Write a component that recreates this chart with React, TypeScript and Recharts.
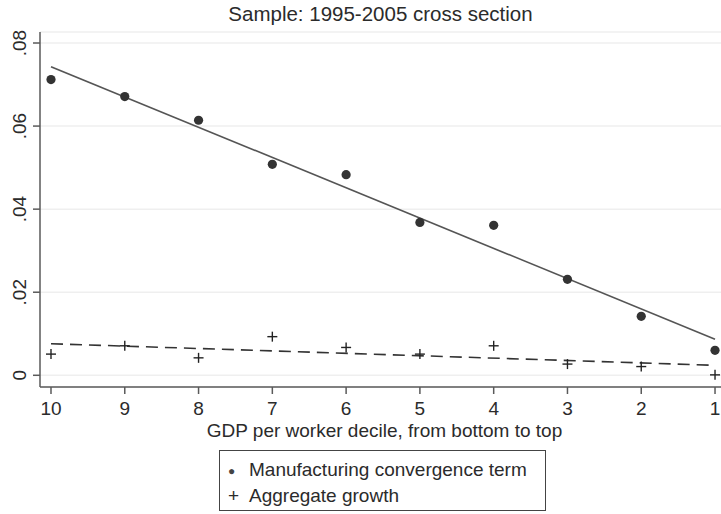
import React from 'react';
import { ComposedChart, Line, Scatter, XAxis, YAxis, CartesianGrid } from 'recharts';

const deciles = [10, 9, 8, 7, 6, 5, 4, 3, 2, 1];
const convergenceTerm = [0.0712, 0.0671, 0.0614, 0.0508, 0.0483, 0.0368, 0.0361, 0.0231, 0.0142, 0.006];
const aggregateGrowth = [0.0051, 0.0071, 0.0042, 0.0093, 0.0067, 0.0051, 0.0071, 0.0027, 0.0021, 0.0001];

// fitted lines, ends at decile 10 and decile 1
const fitDeciles = [10, 1];
const convergenceFit = [0.0743, 0.0087];
const aggregateFit = [0.0076, 0.0024];

const yTicks = [0, 0.02, 0.04, 0.06, 0.08];
const xTicks = [10, 9, 8, 7, 6, 5, 4, 3, 2, 1];

const FONT = '"Liberation Sans", Arial, Helvetica, sans-serif';
const INK = '#2b2b2b';
const AXIS = '#5a5a5a';

const points = deciles.map((d, i) => ({
  decile: d,
  conv: convergenceTerm[i],
  agg: aggregateGrowth[i],
}));
const convFitData = fitDeciles.map((d, i) => ({ decile: d, fit: convergenceFit[i] }));
const aggFitData = fitDeciles.map((d, i) => ({ decile: d, fit: aggregateFit[i] }));

const fmtY = (v: number) => (v === 0 ? '0' : v.toFixed(2).replace(/^0/, ''));

function YTick(props: any) {
  const { x, y, payload } = props;
  return (
    <text
      x={x - 5}
      y={y}
      transform={`rotate(-90, ${x - 5}, ${y})`}
      textAnchor="middle"
      fill={INK}
      fontSize={19}
      fontFamily={FONT}
    >
      {fmtY(payload.value)}
    </text>
  );
}

function XTick(props: any) {
  const { x, y, payload } = props;
  return (
    <text x={x} y={y + 19} textAnchor="middle" fill={INK} fontSize={19} fontFamily={FONT}>
      {payload.value}
    </text>
  );
}

function Dot(props: any) {
  const { cx, cy } = props;
  return <circle cx={cx} cy={cy} r={4.6} fill="#333" />;
}

function Cross(props: any) {
  const { cx, cy } = props;
  const s = 5;
  return (
    <g stroke="#222" strokeWidth={1.4}>
      <line x1={cx - s} y1={cy} x2={cx + s} y2={cy} />
      <line x1={cx} y1={cy - s} x2={cx} y2={cy + s} />
    </g>
  );
}

export default function App() {
  return (
    <div style={{ position: 'absolute', left: 0, top: 0, width: 721, height: 514, background: '#fff' }}>
      <div
        style={{
          position: 'absolute',
          left: 40,
          width: 681,
          top: 2,
          textAlign: 'center',
          fontFamily: FONT,
          fontSize: 20.5,
          color: INK,
        }}
      >
        Sample: 1995-2005 cross section
      </div>
      <ComposedChart
        width={721}
        height={514}
        data={points}
        margin={{ top: 32, right: 0, bottom: 0, left: 0 }}
      >
        <CartesianGrid horizontal vertical={false} stroke="#efefef" strokeWidth={1.5} />
        <XAxis
          dataKey="decile"
          type="number"
          reversed
          domain={[0.919, 10.149]}
          ticks={xTicks}
          allowDataOverflow
          height={127}
          stroke={AXIS}
          strokeWidth={1.5}
          tickSize={7}
          tick={<XTick />}
          interval={0}
        />
        <YAxis
          type="number"
          domain={[-0.00282, 0.08265]}
          ticks={yTicks}
          allowDataOverflow
          width={40}
          stroke={AXIS}
          strokeWidth={1.5}
          tickSize={7}
          tick={<YTick />}
          interval={0}
        />
        <Scatter dataKey="conv" shape={<Dot />} isAnimationActive={false} />
        <Scatter dataKey="agg" shape={<Cross />} isAnimationActive={false} />
        <Line
          data={convFitData}
          dataKey="fit"
          type="linear"
          stroke="#555"
          strokeWidth={1.6}
          dot={false}
          activeDot={false}
          isAnimationActive={false}
        />
        <Line
          data={aggFitData}
          dataKey="fit"
          type="linear"
          stroke="#333"
          strokeWidth={1.6}
          strokeDasharray="12 7"
          dot={false}
          activeDot={false}
          isAnimationActive={false}
        />
      </ComposedChart>
      <div
        style={{
          position: 'absolute',
          left: 4,
          width: 761,
          top: 421,
          textAlign: 'center',
          fontFamily: FONT,
          fontSize: 19,
          lineHeight: '19px',
          color: INK,
        }}
      >
        GDP per worker decile, from bottom to top
      </div>
      <div
        style={{
          position: 'absolute',
          left: 219,
          top: 450,
          width: 327,
          height: 61,
          border: '1.5px solid #444',
          fontFamily: FONT,
          fontSize: 19,
          color: INK,
          boxSizing: 'border-box',
        }}
      >
        <div style={{ position: 'absolute', left: 8, top: 6, whiteSpace: 'nowrap', lineHeight: '26px' }}>
          <span style={{ display: 'inline-block', width: 21, color: '#444', fontSize: 12, verticalAlign: 'middle' }}>●</span>
          Manufacturing convergence term
        </div>
        <div style={{ position: 'absolute', left: 8, top: 32, whiteSpace: 'nowrap', lineHeight: '26px' }}>
          <span style={{ display: 'inline-block', width: 21 }}>+</span>
          Aggregate growth
        </div>
      </div>
    </div>
  );
}
